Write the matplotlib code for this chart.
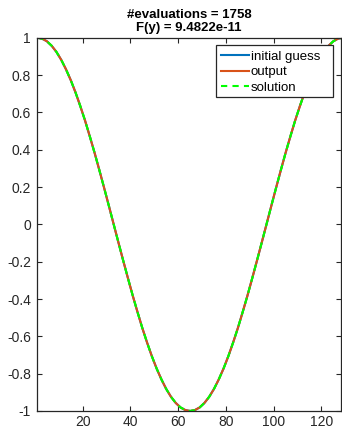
import matplotlib
matplotlib.use("Agg")
import matplotlib.pyplot as plt
from matplotlib.patches import Rectangle

plt.rcParams['font.family'] = ['Liberation Sans', 'DejaVu Sans']

# sample points
x_vals = [1, 3, 5, 7, 9, 11, 13, 15, 17, 19, 21, 23, 25, 27, 29, 31, 33,
          35, 37, 39, 41, 43, 45, 47, 49, 51, 53, 55, 57, 59, 61, 63, 65,
          67, 69, 71, 73, 75, 77, 79, 81, 83, 85, 87, 89, 91, 93, 95, 97,
          99, 101, 103, 105, 107, 109, 111, 113, 115, 117, 119, 121, 123, 125, 127, 129]
y_vals = [1.000, 0.995, 0.981, 0.957, 0.924, 0.882, 0.831, 0.773, 0.707,
          0.634, 0.556, 0.471, 0.383, 0.290, 0.195, 0.098, 0.000,
          -0.098, -0.195, -0.290, -0.383, -0.471, -0.556, -0.634, -0.707,
          -0.773, -0.831, -0.882, -0.924, -0.957, -0.981, -0.995, -1.000,
          -0.995, -0.981, -0.957, -0.924, -0.882, -0.831, -0.773, -0.707,
          -0.634, -0.556, -0.471, -0.383, -0.290, -0.195, -0.098, 0.000,
          0.098, 0.195, 0.290, 0.383, 0.471, 0.556, 0.634, 0.707,
          0.773, 0.831, 0.882, 0.924, 0.957, 0.981, 0.995, 1.000]
initial_guess = y_vals
output = y_vals
solution = y_vals

title_lines = ["#evaluations = 1758", "F(y) = 9.4822e-11"]
xticks = [20, 40, 60, 80, 100, 120]
yticks = [-1, -0.8, -0.6, -0.4, -0.2, 0, 0.2, 0.4, 0.6, 0.8, 1]
ytick_labels = ["-1", "-0.8", "-0.6", "-0.4", "-0.2", "0", "0.2", "0.4", "0.6", "0.8", "1"]

W, H = 342, 430
fig = plt.figure(figsize=(W / 100, H / 100), dpi=100)
ax = fig.add_axes([37.3 / W, 19 / H, 303.2 / W, 373.3 / H])

ax.plot(x_vals, initial_guess, color=(0, 0.447, 0.741), lw=1.5, label="initial guess")
ax.plot(x_vals, output, color=(0.85, 0.325, 0.098), lw=1.5, label="output")
ax.plot(x_vals, solution, color=(0, 1, 0), lw=1.5, ls=(0, (3, 2.5)), label="solution")

ax.set_xlim(1, 128)
ax.set_ylim(-1, 1)
ax.set_xticks(xticks)
ax.set_yticks(yticks)
ax.set_yticklabels(ytick_labels)
ax.tick_params(direction='in', top=True, right=True, length=3.5, width=0.8,
               labelsize=10, colors='#262626')
ax.tick_params(axis='x', pad=3)
ax.tick_params(axis='y', pad=4.5)
for sp in ax.spines.values():
    sp.set_color('#262626')
    sp.set_linewidth(0.9)

ax.set_title("\n".join(title_lines), fontsize=9.5, fontweight='bold', pad=4.7,
             linespacing=1.17)

# legend box
fig.patches.append(Rectangle((215.5 / W, 1 - 97 / H), 117.8 / W, 51.7 / H,
                             transform=fig.transFigure, facecolor='white',
                             edgecolor='#262626', linewidth=0.9, zorder=5))
leg = fig.legend(*ax.get_legend_handles_labels(), loc='upper left',
                 bbox_to_anchor=(220.7 / W, 1 - 50.5 / H),
                 fontsize=9.5, frameon=False,
                 handlelength=2.15, handletextpad=0.12, borderpad=0,
                 labelspacing=0.24, borderaxespad=0)
leg.set_zorder(6)

fig.savefig("out.png", dpi=100)
